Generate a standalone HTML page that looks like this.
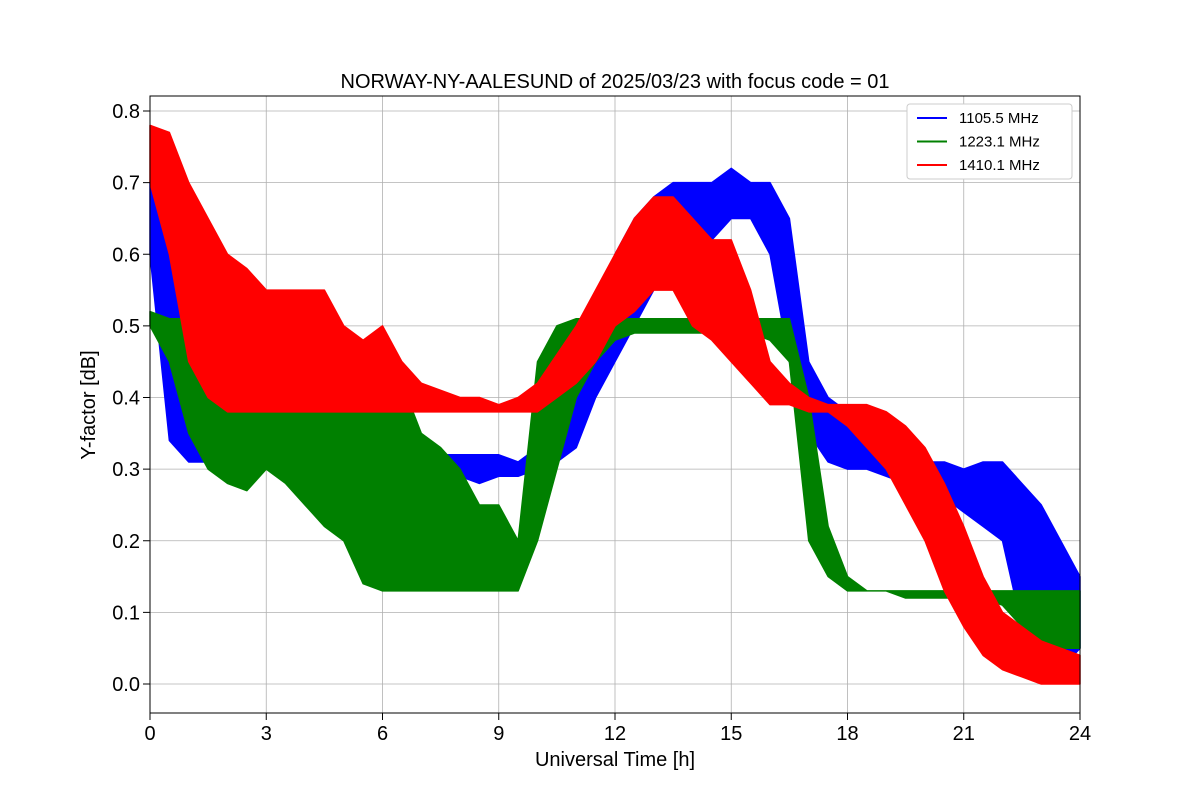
<!DOCTYPE html>
<html><head><meta charset="utf-8"><style>
body{margin:0;background:#fff;font-family:"Liberation Sans","DejaVu Sans",sans-serif}
</style></head><body>
<svg id="chart" width="1200" height="800" xmlns="http://www.w3.org/2000/svg">
<rect width="1200" height="800" fill="#fff"/>
<text x="615" y="88" text-anchor="middle" font-size="20">NORWAY-NY-AALESUND of 2025/03/23 with focus code = 01</text>
<g id="grid"></g>
<g id="series"></g>
<rect x="150" y="96" width="930" height="617" fill="none" stroke="#000" stroke-width="1"/>
<g id="axes"></g>
<text x="615" y="766" text-anchor="middle" font-size="20">Universal Time [h]</text>
<text transform="translate(95,405) rotate(-90)" text-anchor="middle" font-size="20">Y-factor [dB]</text>
<g id="legend">
<rect x="907" y="104" width="165" height="75" rx="3" fill="#fff" stroke="#ccc"/>
</g>
</svg>
<script>
const times = [0,0.5,1,1.5,2,2.5,3,3.5,4,4.5,5,5.5,6,6.5,7,7.5,8,8.5,9,9.5,10,10.5,11,11.5,12,12.5,13,13.5,14,14.5,15,15.5,16,16.5,17,17.5,18,18.5,19,19.5,20,20.5,21,21.5,22,22.5,23,23.5,24];
const seriesNames = ["1105.5 MHz","1223.1 MHz","1410.1 MHz"];
const seriesColors = ["#0000ff","#008000","#ff0000"];
const blueLo = [.6,.34,.31,.31,.31,.31,.31,.31,.31,.31,.31,.31,.31,.31,.3,.29,.29,.28,.29,.29,.3,.31,.33,.4,.45,.5,.55,.6,.6,.62,.65,.65,.6,.45,.35,.31,.3,.3,.29,.28,.28,.26,.24,.22,.2,.08,.05,.02,.05];
const blueHi = [.7,.68,.45,.33,.31,.31,.32,.32,.31,.31,.31,.31,.31,.31,.31,.32,.32,.32,.32,.31,.33,.35,.42,.5,.6,.65,.68,.7,.7,.7,.72,.7,.7,.65,.45,.4,.38,.36,.35,.31,.31,.31,.3,.31,.31,.28,.25,.2,.15];
const greenLo = [.5,.45,.35,.3,.28,.27,.3,.28,.25,.22,.2,.14,.13,.13,.13,.13,.13,.13,.13,.13,.2,.3,.4,.45,.48,.49,.49,.49,.49,.49,.49,.49,.48,.45,.2,.15,.13,.13,.13,.12,.12,.12,.12,.12,.11,.08,.06,.05,.05];
const greenHi = [.52,.51,.51,.51,.5,.48,.46,.45,.44,.42,.42,.4,.4,.42,.35,.33,.3,.25,.25,.2,.45,.5,.51,.51,.51,.51,.51,.51,.51,.51,.51,.51,.51,.51,.4,.22,.15,.13,.13,.13,.13,.13,.13,.13,.13,.13,.13,.13,.13];
const redLo = [.7,.6,.45,.4,.38,.38,.38,.38,.38,.38,.38,.38,.38,.38,.38,.38,.38,.38,.38,.38,.38,.4,.42,.45,.5,.52,.55,.55,.5,.48,.45,.42,.39,.39,.38,.38,.36,.33,.3,.25,.2,.13,.08,.04,.02,.01,0,0,0];
const redHi = [.78,.77,.7,.65,.6,.58,.55,.55,.55,.55,.5,.48,.5,.45,.42,.41,.4,.4,.39,.4,.42,.46,.5,.55,.6,.65,.68,.68,.65,.62,.62,.55,.45,.42,.4,.39,.39,.39,.38,.36,.33,.28,.22,.15,.1,.08,.06,.05,.04];
const xTicks = [0,3,6,9,12,15,18,21,24];
const yTicks = [0,0.1,0.2,0.3,0.4,0.5,0.6,0.7,0.8];

const NS="http://www.w3.org/2000/svg";
const X0=150,X1=1080,Y0=684,YSCALE=716.25;
const xs=t=>X0+(X1-X0)*t/24;
const ys=v=>Y0-v*YSCALE;
function mk(tag,attrs,parent){const e=document.createElementNS(NS,tag);for(const k in attrs)e.setAttribute(k,attrs[k]);document.getElementById(parent).appendChild(e);return e;}

xTicks.forEach(t=>{
  const g=mk("line",{x1:xs(t),x2:xs(t),y1:96,y2:713,stroke:"#b0b0b0","stroke-width":0.8},"grid");
  
  
  const tk=mk("line",{x1:xs(t),x2:xs(t),y1:713,y2:720,stroke:"#000"},"axes");
  
  
  const tx=mk("text",{x:xs(t),y:740,"text-anchor":"middle","font-size":20},"axes");
  tx.textContent=t;
  
  
});
yTicks.forEach(v=>{
  const g=mk("line",{x1:150,x2:1080,y1:ys(v),y2:ys(v),stroke:"#b0b0b0","stroke-width":0.8},"grid");
  
  
  const tk=mk("line",{x1:143,x2:150,y1:ys(v),y2:ys(v),stroke:"#000"},"axes");
  
  
  const tx=mk("text",{x:140,y:ys(v)+7,"text-anchor":"end","font-size":20},"axes");
  tx.textContent=v.toFixed(1);
  
  
});
const los=[blueLo,greenLo,redLo],his=[blueHi,greenHi,redHi];
for(let s=0;s<3;s++){
  let pts=[];
  times.forEach((t,i)=>pts.push(xs(t)+","+ys(his[s][i])));
  for(let i=times.length-1;i>=0;i--)pts.push(xs(times[i])+","+ys(los[s][i]));
  const p=mk("polygon",{points:pts.join(" "),fill:seriesColors[s],stroke:seriesColors[s],"stroke-width":1.5,"stroke-linejoin":"round"},"series");
  
  
  const ln=mk("line",{x1:917,x2:947,y1:118+s*23.5,y2:118+s*23.5,stroke:seriesColors[s],"stroke-width":2},"legend");
  
  
  const lt=mk("text",{x:959,y:123+s*23.5,"font-size":15},"legend");
  lt.textContent=seriesNames[s];
  
  
}
</script>
</body></html>
